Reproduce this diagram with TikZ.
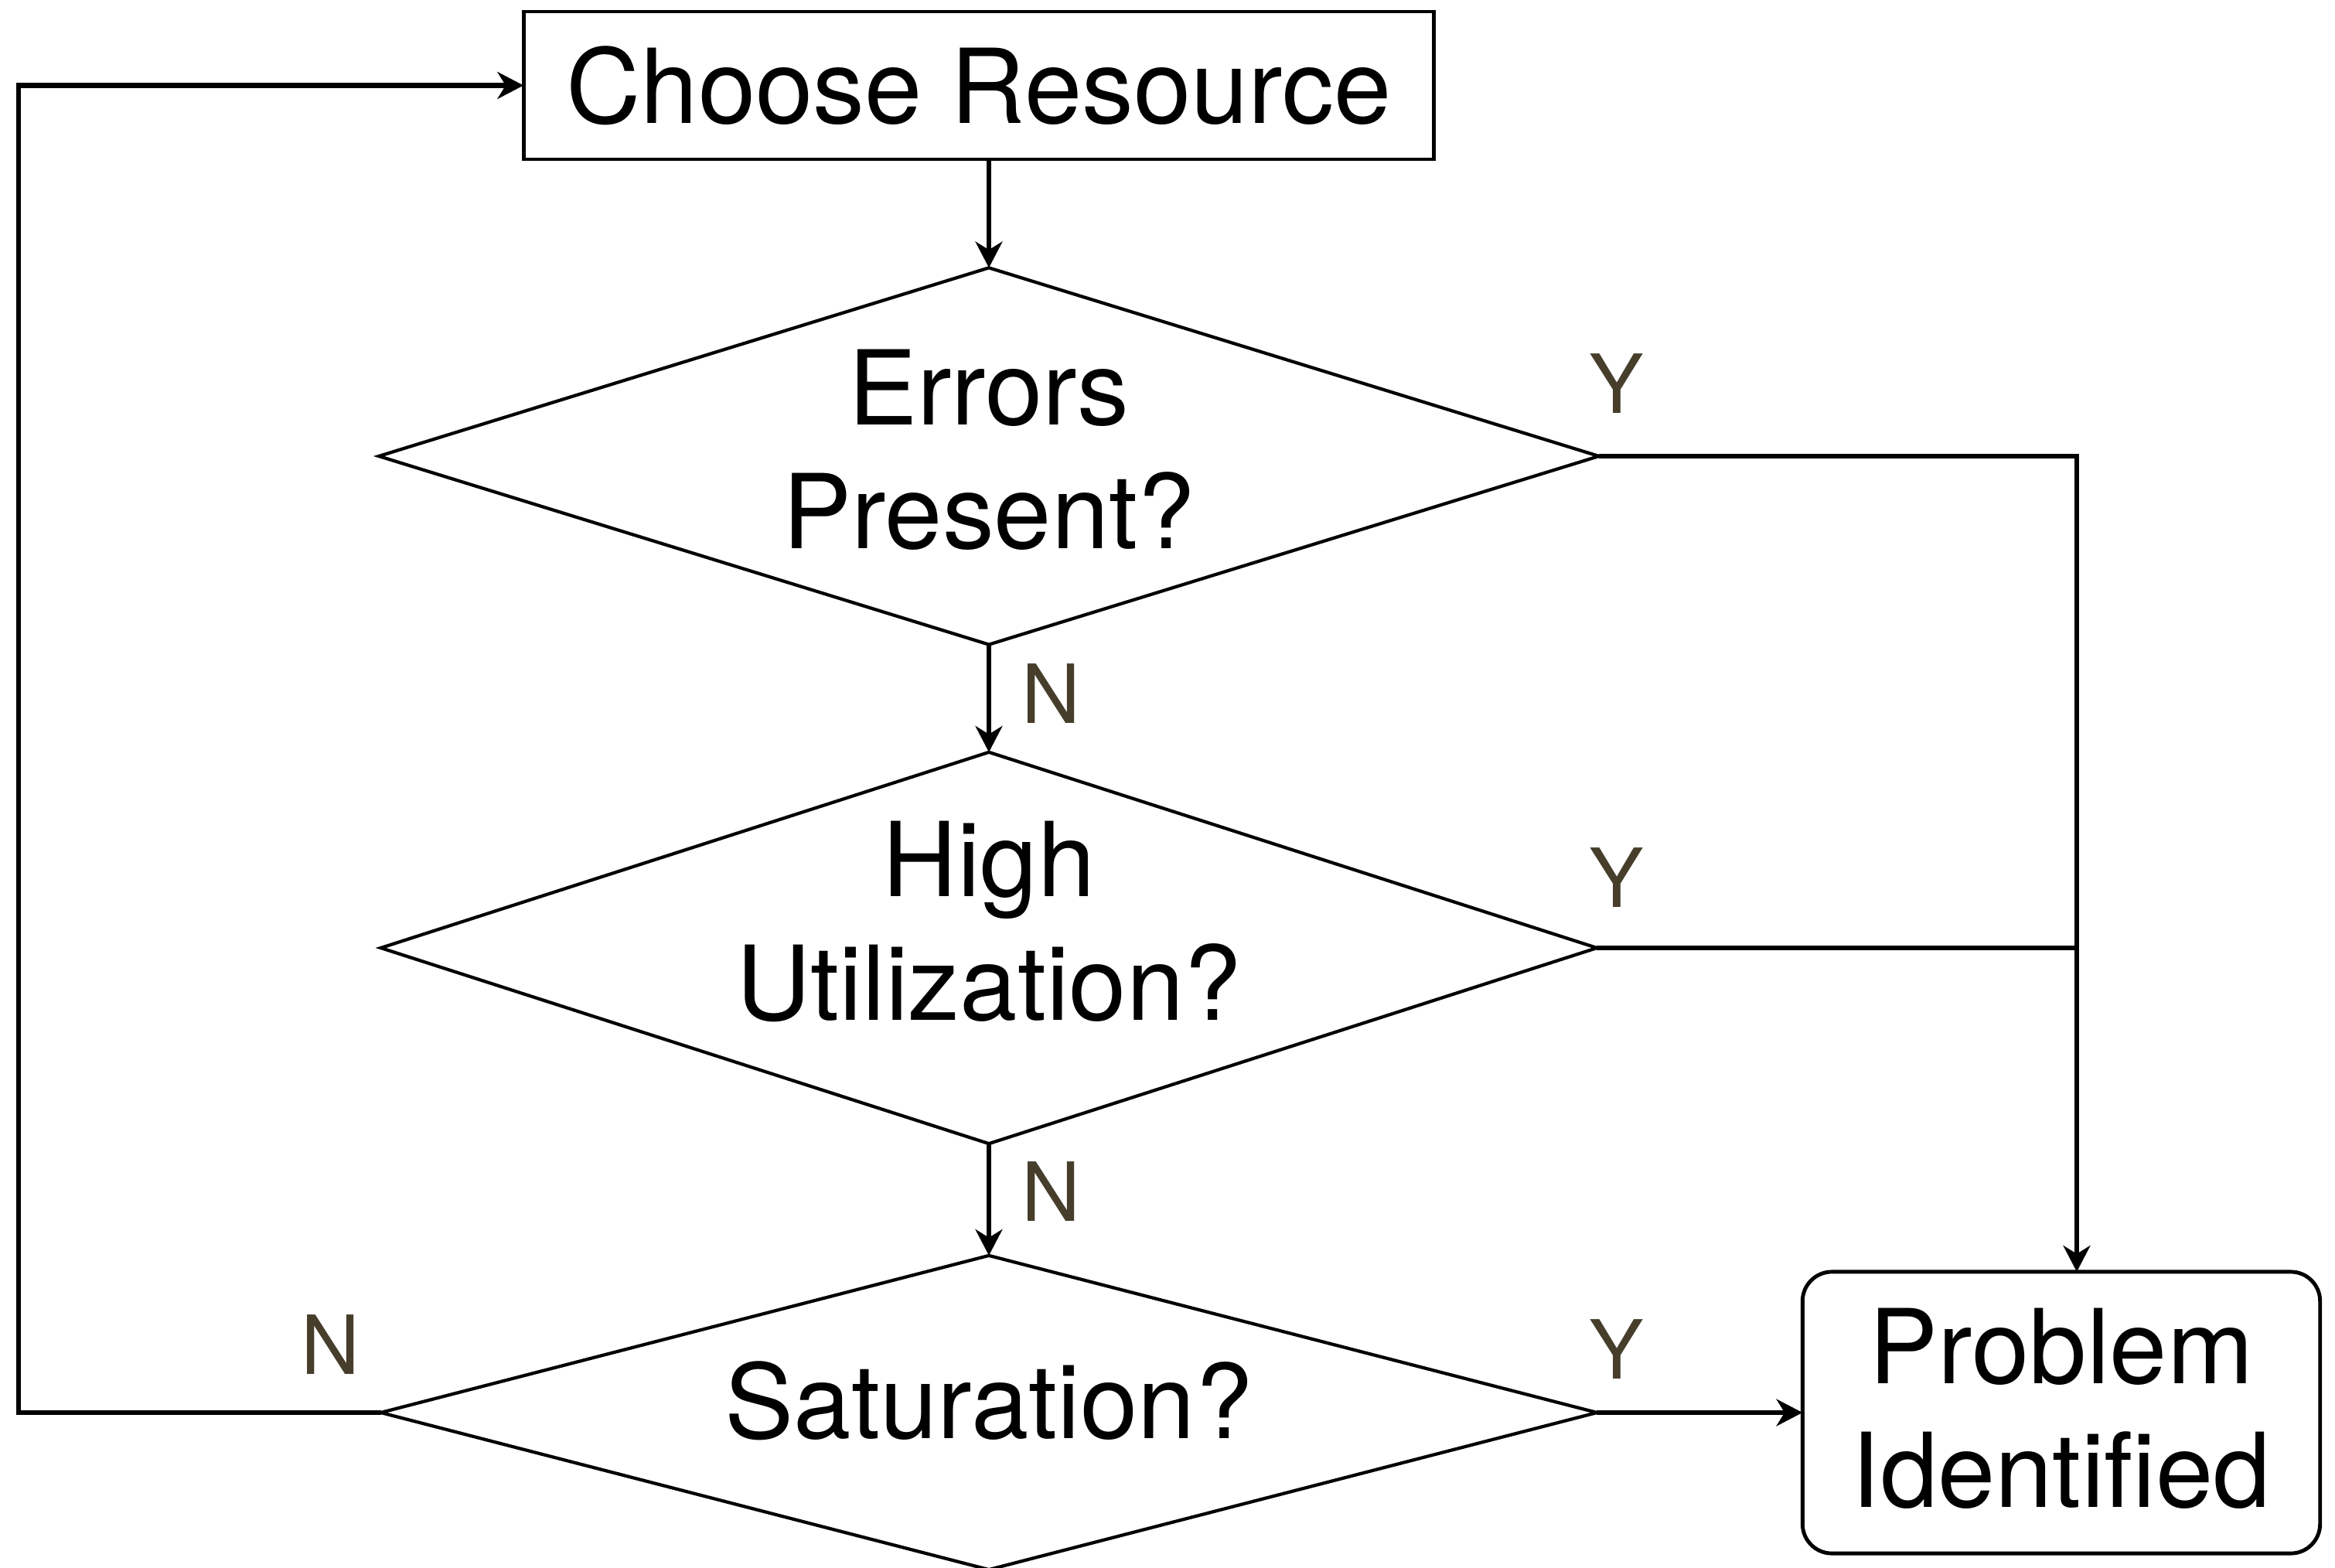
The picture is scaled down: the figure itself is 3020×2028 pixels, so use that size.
\documentclass[tikz,border=0pt]{standalone}
\usepackage{fontspec}
\setmainfont{TeX Gyre Heros}
\usetikzlibrary{shapes.geometric, arrows.meta, calc}
\definecolor{lblcol}{RGB}{70,62,43}
\begin{document}
\begin{tikzpicture}[x=0.01cm, y=-0.01cm,
  every node/.style={inner sep=0pt, outer sep=0pt},
  maintext/.style={font=\fontsize{38}{45.5}\selectfont, align=center},
  yn/.style={font=\fontsize{30}{36}\selectfont, text=lblcol},
  procbox/.style={draw, rectangle, line width=1.35pt},
  endbox/.style={draw, rectangle, line width=1.4pt, rounded corners=0.38cm},
  decision/.style={draw, diamond, line width=1.2pt, inner sep=0pt},
  flow/.style={line width=1.75pt, -{Stealth[length=9.6pt, width=9.9pt, inset=3pt]}},
  link/.style={line width=1.75pt},
]
\useasboundingbox (0,0) rectangle (3020,2028);

% process box and decisions
\node[procbox, minimum width=11.77cm, minimum height=1.91cm] (cr) at (1266,110.5) {};
\node[maintext] (crt) at (cr.center) {Choose Resource};

\node[decision, minimum width=15.77cm, minimum height=4.87cm] (d1) at (1279,590) {};
\node[maintext] (d1t) at ($(d1.center)+(0,-8)$) {Errors\\Present?};

\node[decision, minimum width=15.72cm, minimum height=5.06cm] (d2) at (1279,1226) {};
\node[maintext] (d2t) at ($(d2.center)+(0,-34)$) {High\\Utilization?};

\node[decision, minimum width=15.72cm, minimum height=4.06cm] (d3) at (1279,1827) {};
\node[maintext] (d3t) at ($(d3.center)+(0,-15)$) {Saturation?};

% terminal box
\node[endbox, minimum width=6.69cm, minimum height=3.64cm] (pi) at (2666,1827) {};
\node[maintext] (pit) at ($(pi.center)+(0,-5)$) {Problem\\Identified};

% junction column and loop-back column
\coordinate (jx) at (2686,0);
\coordinate (lx) at (24,0);
\coordinate (lb) at (d3.west -| lx);
\coordinate (lt) at (cr.west -| lx);

% connectors
\draw[flow] (cr.south -| d1.north) -- (d1.north);
\draw[flow] (d1.south) -- (d2.north);
\draw[flow] (d2.south) -- (d3.north);
\draw[flow] (d1.east) -- (d1.east -| jx) -- (pi.north -| jx);
\draw[link] (d2.east) -- (d2.east -| jx);
\draw[flow] (d3.east) -- (pi.west);
\draw[flow] (d3.west) -- (lb) -- (lt) -- (cr.west);

% branch labels
\node[yn] (y1) at (2091,496) {Y};
\node[yn] (y2) at (2091,1135) {Y};
\node[yn] (y3) at (2091,1745) {Y};
\node[yn] (n1) at (1360,897) {N};
\node[yn] (n2) at (1360,1541) {N};
\node[yn] (n3) at (428,1739) {N};
\end{tikzpicture}
\end{document}
